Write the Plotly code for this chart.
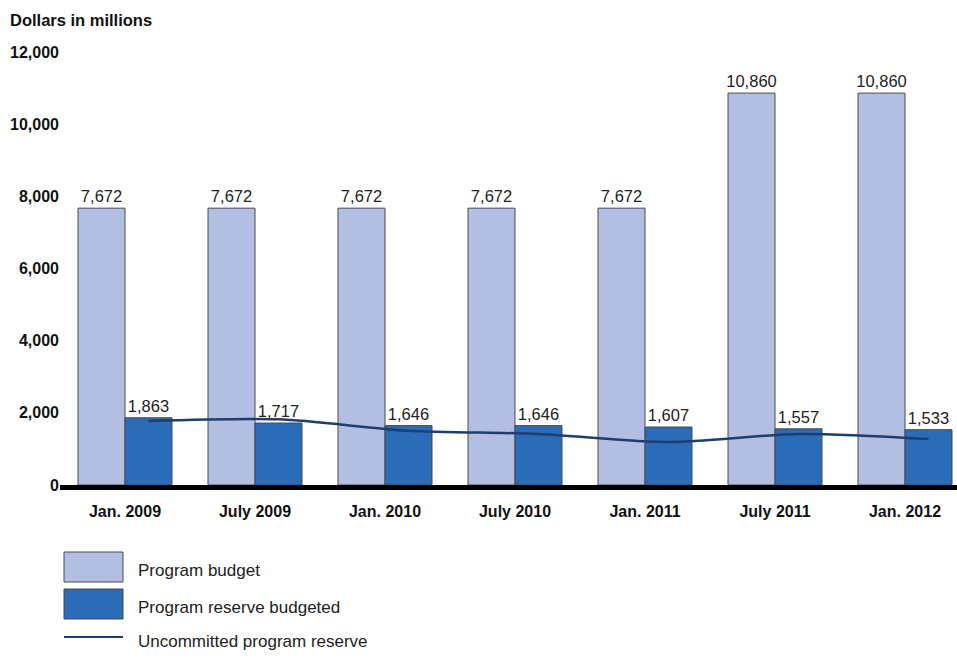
import plotly.graph_objects as go

categories = ["Jan. 2009", "July 2009", "Jan. 2010", "July 2010", "Jan. 2011", "July 2011", "Jan. 2012"]
program_budget = [7672, 7672, 7672, 7672, 7672, 10860, 10860]
reserve_budgeted = [1863, 1717, 1646, 1646, 1607, 1557, 1533]
uncommitted_reserve = [1775, 1820, 1505, 1415, 1190, 1415, 1275]
y_ticks = [0, 2000, 4000, 6000, 8000, 10000, 12000]

W, H = 957, 658
L, R, T, B = 60, 0, 52, 173
PW, PH = W - L - R, H - T - B

def px_x(x):
    return (x - L) / PW

def px_y(y):
    return (H - B - y) / PH

LIGHT = "#b2bee2"
DARK = "#2a6cb8"
NAVY = "#1f3d6e"
idx = list(range(len(categories)))
line_x = [i + 0.18 for i in idx]

fig = go.Figure()
fig.add_trace(go.Bar(
    x=idx, y=program_budget, name="Program budget",
    marker=dict(color=LIGHT, line=dict(color="#4a4a4a", width=1)),
    text=[f"{v:,}" for v in program_budget], textposition="outside", constraintext="none",
    textfont=dict(family="Arial", size=16.5, color="#222"), cliponaxis=False,
))
fig.add_trace(go.Bar(
    x=idx, y=reserve_budgeted, name="Program reserve budgeted",
    marker=dict(color=DARK, line=dict(color="#4a4a4a", width=1)),
    text=[f"{v:,}" for v in reserve_budgeted], textposition="outside", constraintext="none",
    textfont=dict(family="Arial", size=16.5, color="#222"), cliponaxis=False,
))
fig.add_trace(go.Scatter(
    x=line_x, y=uncommitted_reserve, name="Uncommitted program reserve",
    mode="lines", line=dict(color=NAVY, width=2.5, shape="spline", smoothing=0.8),
))

fig.update_layout(
    width=W, height=H,
    margin=dict(l=L, r=R, t=T, b=B),
    paper_bgcolor="white", plot_bgcolor="white",
    barmode="group", bargap=0.277, bargroupgap=0,
    showlegend=False,
    font=dict(family="Arial", color="#111"),
    xaxis=dict(
        range=[-0.5, -0.5 + PW / 130], tickvals=idx, ticktext=categories,
        showgrid=False, zeroline=False, showline=True, linecolor="black", linewidth=5,
        ticks="", ticklabelstandoff=8,
        tickfont=dict(family="Arial", size=16, color="#111", weight="bold"),
    ),
    yaxis=dict(
        range=[0, 12000], tickvals=y_ticks, ticktext=[f"{v:,}" for v in y_ticks],
        showgrid=False, zeroline=False, showline=False, ticks="",
        tickfont=dict(family="Arial", size=16, color="#111", weight="bold"),
    ),
)

fig.add_annotation(
    text="<b>Dollars in millions</b>", xref="paper", yref="paper",
    x=px_x(8), y=px_y(20), xanchor="left", yanchor="middle", showarrow=False,
    font=dict(family="Arial", size=16.5, color="#111"),
)

# custom legend
legend_items = [("Program budget", LIGHT, 552, 582),
                ("Program reserve budgeted", DARK, 589, 619)]
for name, col, y0, y1 in legend_items:
    fig.add_shape(type="rect", xref="paper", yref="paper",
                  x0=px_x(64), x1=px_x(123), y0=px_y(y1), y1=px_y(y0),
                  fillcolor=col, line=dict(color="#4a4a4a", width=1))
    fig.add_annotation(text=name, xref="paper", yref="paper",
                       x=px_x(136), y=px_y((y0 + y1) / 2 + 3), xanchor="left", yanchor="middle",
                       showarrow=False, font=dict(family="Arial", size=17, color="#222"))
fig.add_shape(type="line", xref="paper", yref="paper",
              x0=px_x(64), x1=px_x(123), y0=px_y(637), y1=px_y(637),
              line=dict(color=NAVY, width=2))
fig.add_annotation(text="Uncommitted program reserve", xref="paper", yref="paper",
                   x=px_x(136), y=px_y(641), xanchor="left", yanchor="middle",
                   showarrow=False, font=dict(family="Arial", size=17, color="#222"))

fig.write_html("out.html")
